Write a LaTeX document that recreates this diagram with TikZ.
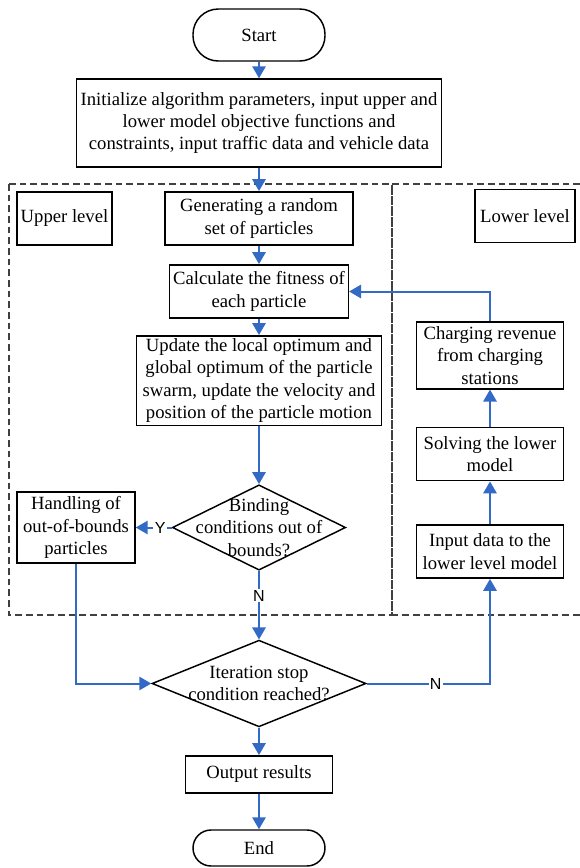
\documentclass[tikz,border=0pt]{standalone}
\usepackage{fontspec}
\setmainfont{Liberation Serif}
\newfontfamily\yesnofont{Liberation Sans}
\usetikzlibrary{arrows.meta,shapes.geometric}
\definecolor{flowblue}{RGB}{50,106,198}

\begin{document}
\begin{tikzpicture}[x=0.75pt,y=-0.75pt,
  box/.style={draw=black,line width=1.1pt,fill=white,align=center,inner sep=2pt,
    font=\fontsize{14}{16.8}\selectfont},
  term/.style={box,minimum width=99pt},
  decide/.style={diamond,draw=black,line width=1.1pt,fill=white,inner sep=0pt},
  dtext/.style={align=center,font=\fontsize{14}{16.8}\selectfont},
  region/.style={draw=black!75,line width=0.8pt,dash pattern=on 5pt off 3pt},
  flow/.style={draw=flowblue,line width=1.5pt,-{Triangle[length=9pt,width=10pt]}},
  yn/.style={fill=white,inner sep=1pt,font=\yesnofont\fontsize{12}{14}\selectfont}]

\useasboundingbox (0,0) rectangle (580,868);

% dashed regions
\draw[region] (9,184) rectangle (392,615);
\draw[region] (580,184) -- (392,184) -- (392,615) -- (580,615);

% main column
\node[term,rounded corners=19pt,minimum height=39pt] (start) at (259,35) {Start};
\node[box,minimum width=274pt,minimum height=66pt] (init) at (259,123)
  {Initialize algorithm parameters, input upper and\\lower model objective functions and\\constraints, input traffic data and vehicle data};
\node[box,minimum width=71pt,minimum height=40pt] (upper) at (64.5,218.5) {Upper level};
\node[box,minimum width=75pt,minimum height=40pt] (lower) at (525,216) {Lower level};
\node[box,minimum width=141pt,minimum height=40pt] (gen) at (259,218.5) {Generating a random\\set of particles};
\node[box,minimum width=134pt,minimum height=40pt] (fit) at (259,291.5) {Calculate the fitness of\\each particle};
\node[box,minimum width=184pt,minimum height=62pt] (update) at (259,380.5)
  {Update the local optimum and\\global optimum of the particle\\swarm, update the velocity and\\position of the particle motion};
\node[decide,minimum width=130pt,minimum height=64pt,
  label={[dtext]center:{Binding\\conditions out of\\bounds?}}] (bind) at (259,527.5) {};
\node[box,minimum width=88.5pt,minimum height=53pt] (hand) at (76,527.5) {Handling of\\out-of-bounds\\particles};
\node[decide,minimum width=160.5pt,minimum height=65pt,
  label={[dtext]center:{Iteration stop\\condition reached?}}] (iter) at (259,683.5) {};
\node[box,minimum width=110pt,minimum height=28pt] (out) at (259,774.5) {Output results};
\node[term,rounded corners=13.5pt,minimum height=27pt] (end) at (259,848) {End};

% lower level column
\node[box,minimum width=110pt,minimum height=40pt] (input) at (490,551.5) {Input data to the\\lower level model};
\node[box,minimum width=110pt,minimum height=40pt] (solve) at (490,454) {Solving the lower\\model};
\node[box,minimum width=110pt,minimum height=50pt] (charge) at (490,355.5) {Charging revenue\\from charging\\stations};

% connectors
\draw[flow] (start) -- (init);
\draw[flow] (init) -- (gen);
\draw[flow] (gen) -- (fit);
\draw[flow] (fit) -- (update);
\draw[flow] (update) -- (bind);
\draw[flow] (bind.west) -- node[yn,pos=0.32] {Y} (hand.east);
\draw[flow] (bind.south) -- node[yn,pos=0.36] {N} (iter.north);
\draw[flow] (hand.south) |- (iter.west);
\draw[flow] (iter.east) -| node[yn,pos=0.28] {N} (input.south);
\draw[flow] (input) -- (solve);
\draw[flow] (solve) -- (charge);
\draw[flow] (charge.north) |- (fit.east);
\draw[flow] (iter.south) -- (out.north);
\draw[flow] (out) -- (end);

\end{tikzpicture}
\end{document}
